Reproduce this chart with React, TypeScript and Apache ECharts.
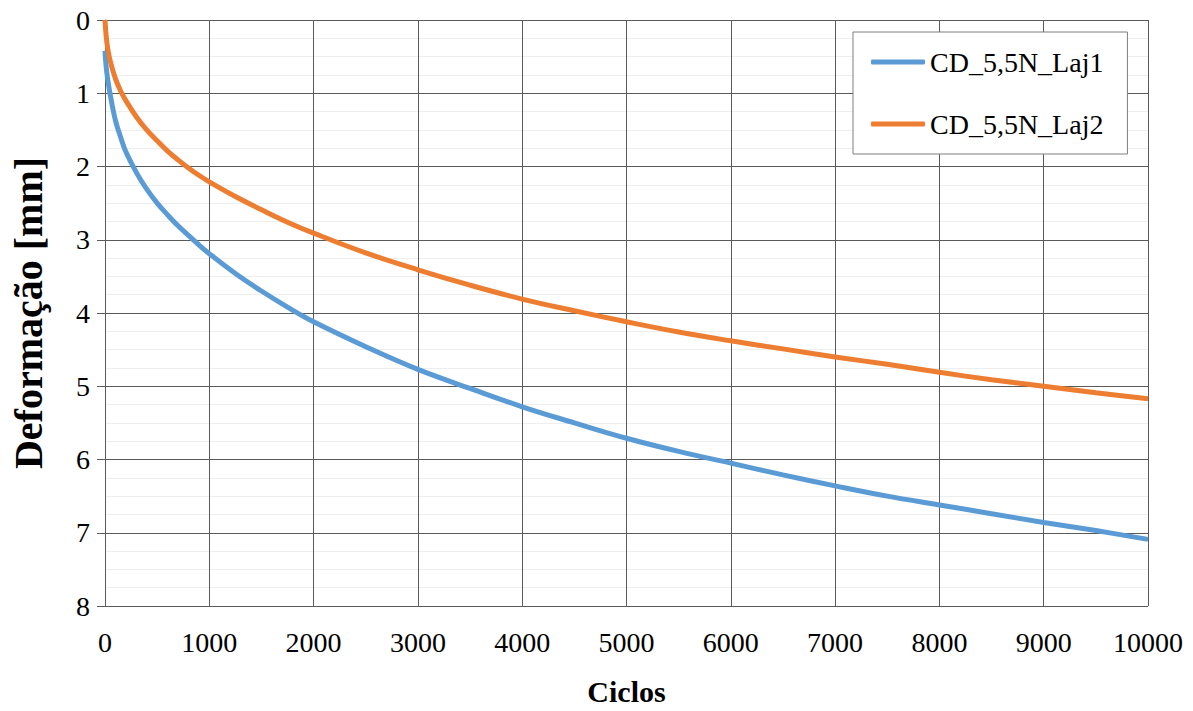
import React, { useEffect, useRef } from "react";
import * as echarts from "echarts";

// Cycle counts at which deformation was sampled
const cycles = [
  0, 10, 25, 50, 100, 150, 200, 300, 400, 500, 600, 700, 800, 900, 1000, 1250,
  1500, 1750, 2000, 2500, 3000, 3500, 4000, 4500, 5000, 5500, 6000, 6500, 7000,
  7500, 8000, 8500, 9000, 9500, 10000,
];

// Deformation [mm] for each slab
const laj1 = [
  0.42, 0.62, 0.8, 1.02, 1.37, 1.6, 1.8, 2.08, 2.31, 2.5, 2.66, 2.81, 2.94, 3.07,
  3.19, 3.46, 3.7, 3.92, 4.12, 4.46, 4.77, 5.03, 5.28, 5.5, 5.71, 5.89, 6.05,
  6.21, 6.36, 6.5, 6.62, 6.74, 6.86, 6.97, 7.09,
];
const laj2 = [
  0, 0.2, 0.38, 0.56, 0.8, 0.97, 1.1, 1.32, 1.5, 1.65, 1.79, 1.91, 2.02, 2.12,
  2.21, 2.41, 2.59, 2.76, 2.91, 3.18, 3.41, 3.62, 3.81, 3.97, 4.12, 4.26, 4.38,
  4.49, 4.6, 4.7, 4.81, 4.91, 5.0, 5.09, 5.17,
];

const seriesNames = ["CD_5,5N_Laj1", "CD_5,5N_Laj2"];
const seriesColors = ["#5B9BD5", "#ED7D31"];

const FONT = "'Liberation Serif', 'Times New Roman', serif";
const GRID_COLOR = "#5a5a5a";

export default function App() {
  const ref = useRef<HTMLDivElement>(null);

  useEffect(() => {
    if (!ref.current) return;
    const chart = echarts.init(ref.current, undefined, { renderer: "svg" });
    const pairs = (ys: number[]) => cycles.map((c, i) => [c, ys[i]]);

    chart.setOption({
      animation: false,
      backgroundColor: "#ffffff",
      textStyle: { fontFamily: FONT },
      grid: { left: 103, right: 45, top: 20, bottom: 105, containLabel: false },
      legend: {
        left: 853,
        top: 32,
        orient: "vertical",
        padding: [16, 24, 16, 18],
        itemGap: 34,
        itemWidth: 54,
        itemHeight: 5,
        icon: "roundRect",
        borderColor: "#7f7f7f",
        borderWidth: 1,
        backgroundColor: "#ffffff",
        textStyle: { fontFamily: FONT, fontSize: 28, color: "#000" },
        data: seriesNames,
      },
      xAxis: {
        type: "value",
        min: 0,
        max: 10000,
        interval: 1000,
        name: "Ciclos",
        nameLocation: "middle",
        nameGap: 70,
        nameTextStyle: { fontFamily: FONT, fontSize: 30, fontWeight: "bold", color: "#000" },
        axisLine: { show: true, lineStyle: { color: GRID_COLOR, width: 1 } },
        axisTick: { show: false },
        axisLabel: {
          fontFamily: FONT,
          fontSize: 28,
          color: "#000",
          margin: 22,
          formatter: (v: number) => String(v),
        },
        splitLine: { show: true, lineStyle: { color: GRID_COLOR, width: 1 } },
      },
      yAxis: {
        type: "value",
        inverse: true,
        min: 0,
        max: 8,
        interval: 1,
        name: "Deformação [mm]",
        nameLocation: "middle",
        nameGap: 57,
        nameTextStyle: { fontFamily: FONT, fontSize: 40, fontWeight: "bold", color: "#000" },
        axisLine: { show: true, lineStyle: { color: GRID_COLOR, width: 1 } },
        axisTick: { show: true, length: 8, lineStyle: { color: GRID_COLOR } },
        axisLabel: {
          fontFamily: FONT,
          fontSize: 28,
          color: "#000",
          margin: 15,
          formatter: (v: number) => String(v),
        },
        splitLine: { show: true, lineStyle: { color: GRID_COLOR, width: 1 } },
        minorTick: { show: false, splitNumber: 4 },
        minorSplitLine: { show: true, lineStyle: { color: "#eeeeee", width: 1 } },
      },
      series: [
        {
          name: seriesNames[0],
          type: "line",
          data: pairs(laj1),
          showSymbol: false,
          smooth: 0.4,
          color: seriesColors[0],
          lineStyle: { width: 5, color: seriesColors[0] },
        },
        {
          name: seriesNames[1],
          type: "line",
          data: pairs(laj2),
          showSymbol: false,
          smooth: 0.4,
          color: seriesColors[1],
          lineStyle: { width: 5, color: seriesColors[1] },
        },
      ],
    });

    return () => chart.dispose();
  }, []);

  return (
    <div
      ref={ref}
      style={{ position: "fixed", left: 0, top: 0, width: 1193, height: 711, background: "#fff" }}
    />
  );
}
